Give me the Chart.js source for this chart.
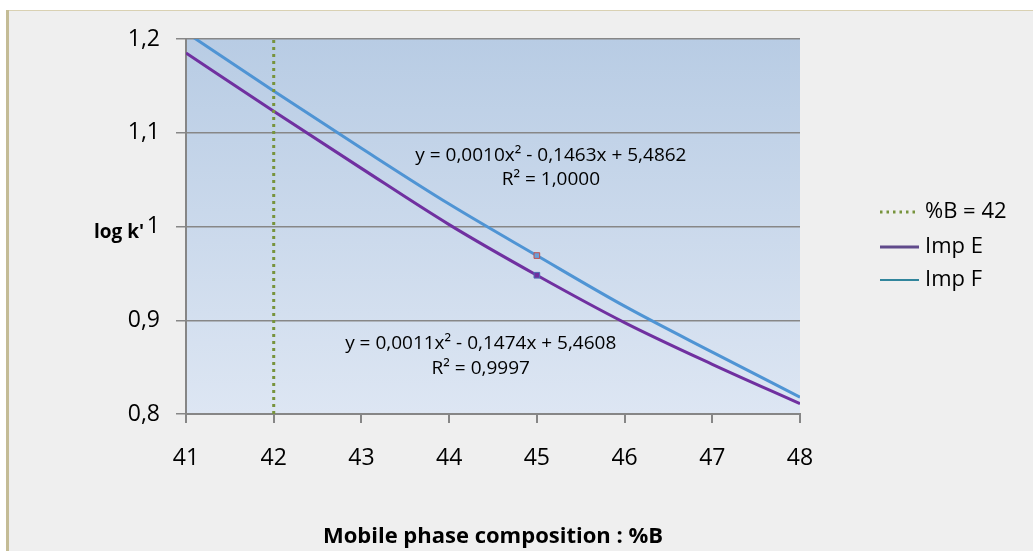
<!DOCTYPE html>
<html><head><meta charset="utf-8">
<script src="https://cdn.jsdelivr.net/npm/chart.js@4"></script>
<style>html,body{margin:0;padding:0;background:#fff;}canvas{display:block;}</style>
</head><body>
<canvas id="c" width="1033" height="551"></canvas>
<script>
// ---- data ----
const xValues   = [41, 42, 43, 44, 45, 46, 47, 48];
const impE      = [1.185, 1.123, 1.062, 1.002, 0.948, 0.8975, 0.853, 0.811];
const impF      = [1.207, 1.1445, 1.0835, 1.024, 0.969, 0.915, 0.866, 0.818];
const markerX   = 45;
const refLineX  = 42;
const refLineY  = [0.8, 1.2];
const yTicks    = [0.8, 0.9, 1.0, 1.1, 1.2];
const yTickLabels = ['0,8', '0,9', '1', '1,1', '1,2'];
const xTicks    = [41, 42, 43, 44, 45, 46, 47, 48];
const xTickLabels = ['41', '42', '43', '44', '45', '46', '47', '48'];
const seriesNames = ['%B = 42', 'Imp E', 'Imp F'];
const eqImpF    = ['y = 0,0010x² - 0,1463x + 5,4862', 'R² = 1,0000'];
const eqImpE    = ['y = 0,0011x² - 0,1474x + 5,4608', 'R² = 0,9997'];
const xTitle    = 'Mobile phase composition : %B';
const yTitle    = "log k'";

const FONT = '"Open Sans", "DejaVu Sans", sans-serif';
const toPts = ys => ys.map((y, i) => ({x: xValues[i], y}));

const bgPlugin = {
  id: 'bg',
  beforeDraw(chart) {
    const {ctx, width, height, chartArea: a} = chart;
    ctx.save();
    ctx.fillStyle = '#ffffff';
    ctx.fillRect(0, 0, width, height);
    ctx.fillStyle = '#efefef';
    ctx.fillRect(7, 10, width - 7, height - 10);
    ctx.fillStyle = '#d9d1b3';
    ctx.fillRect(7, 10, width - 7, 1);
    ctx.fillStyle = '#c4bc96';
    ctx.fillRect(6, 10, 3, height - 10);
    const g = ctx.createLinearGradient(0, a.top, 0, a.bottom);
    g.addColorStop(0, '#b8cce4');
    g.addColorStop(1, '#dde6f3');
    ctx.fillStyle = g;
    ctx.fillRect(a.left, a.top, a.right - a.left, a.bottom - a.top);
    ctx.restore();
  }
};

const textPlugin = {
  id: 'texts',
  afterDraw(chart) {
    const {ctx} = chart;
    const xs = chart.scales.x, ys = chart.scales.y;
    ctx.save();
    ctx.fillStyle = '#000';
    ctx.textAlign = 'center';
    ctx.textBaseline = 'middle';
    // y axis title (horizontal)
    ctx.font = 'bold 19px ' + FONT;
    ctx.fillText(yTitle, 119, 233);
    // trendline equations
    ctx.font = '19px ' + FONT;
    const fx = xs.getPixelForValue(45.16);
    ctx.fillText(eqImpF[0], fx, ys.getPixelForValue(1.0757));
    ctx.fillText(eqImpF[1], fx, ys.getPixelForValue(1.0497));
    const ex = xs.getPixelForValue(44.36);
    ctx.fillText(eqImpE[0], ex, ys.getPixelForValue(0.8749));
    ctx.fillText(eqImpE[1], ex, ys.getPixelForValue(0.8482));
    // legend
    const items = [
      {label: seriesNames[0], color: '#77933c', dash: [2.5, 4], w: 3, y: 212},
      {label: seriesNames[1], color: '#604a8b', dash: [], w: 3, y: 247},
      {label: seriesNames[2], color: '#31859c', dash: [], w: 2, y: 280}
    ];
    ctx.font = '22px ' + FONT;
    ctx.textAlign = 'left';
    items.forEach(it => {
      ctx.beginPath();
      ctx.setLineDash(it.dash);
      ctx.strokeStyle = it.color;
      ctx.lineWidth = it.w;
      ctx.moveTo(880, it.y);
      ctx.lineTo(919, it.y);
      ctx.stroke();
      ctx.setLineDash([]);
      ctx.fillText(it.label, 925, it.y);
    });
    ctx.restore();
  }
};

new Chart(document.getElementById('c'), {
  type: 'line',
  data: {
    datasets: [
      {
        label: seriesNames[0],
        data: refLineY.map(y => ({x: refLineX, y})),
        borderColor: '#77933c',
        borderWidth: 3,
        borderDash: [3, 4],
        pointRadius: 0,
        fill: false
      },
      {
        label: seriesNames[1],
        data: toPts(impE),
        borderColor: '#7030a0',
        borderWidth: 3,
        cubicInterpolationMode: 'monotone',
        pointStyle: 'rect',
        pointRadius: xValues.map(x => x === markerX ? 4 : 0),
        pointBackgroundColor: '#7030a0',
        pointBorderColor: '#4f6fb5',
        pointBorderWidth: 1,
        fill: false
      },
      {
        label: seriesNames[2],
        data: toPts(impF),
        borderColor: '#4f94d4',
        borderWidth: 3,
        cubicInterpolationMode: 'monotone',
        pointStyle: 'rect',
        pointRadius: xValues.map(x => x === markerX ? 4 : 0),
        pointBackgroundColor: '#6a9fd8',
        pointBorderColor: '#c0504d',
        pointBorderWidth: 1,
        fill: false
      }
    ]
  },
  options: {
    responsive: false,
    animation: false,
    devicePixelRatio: 1,
    layout: {padding: {left: 0, top: 39, right: 233, bottom: 0}},
    plugins: {legend: {display: false}, tooltip: {enabled: false}},
    scales: {
      x: {
        type: 'linear',
        min: 41, max: 48,
        afterBuildTicks: s => { s.ticks = xTicks.map(v => ({value: v})); },
        afterFit: s => { s.height = 137; },
        ticks: {
          callback: (v) => xTickLabels[xTicks.indexOf(v)],
          color: '#000',
          font: {family: FONT, size: 23},
          padding: 22,
          maxRotation: 0
        },
        grid: {drawOnChartArea: false, drawTicks: true, tickLength: 9, color: '#868686', lineWidth: 2},
        border: {color: '#868686', width: 2},
        title: {display: true, text: xTitle, color: '#000', font: {family: FONT, size: 22, weight: 'bold'}, padding: {top: 0, bottom: 1}}
      },
      y: {
        min: 0.8, max: 1.2,
        afterBuildTicks: s => { s.ticks = yTicks.map(v => ({value: v})); },
        afterFit: s => { s.width = 186; },
        ticks: {
          callback: (v) => yTickLabels[yTicks.findIndex(t => Math.abs(t - v) < 1e-9)],
          color: '#000',
          font: {family: FONT, size: 23},
          padding: 16
        },
        grid: {drawOnChartArea: true, drawTicks: true, tickLength: 10, color: '#878787', lineWidth: 1.5},
        border: {color: '#868686', width: 2}
      }
    }
  },
  plugins: [bgPlugin, textPlugin]
});
</script>
</body></html>
